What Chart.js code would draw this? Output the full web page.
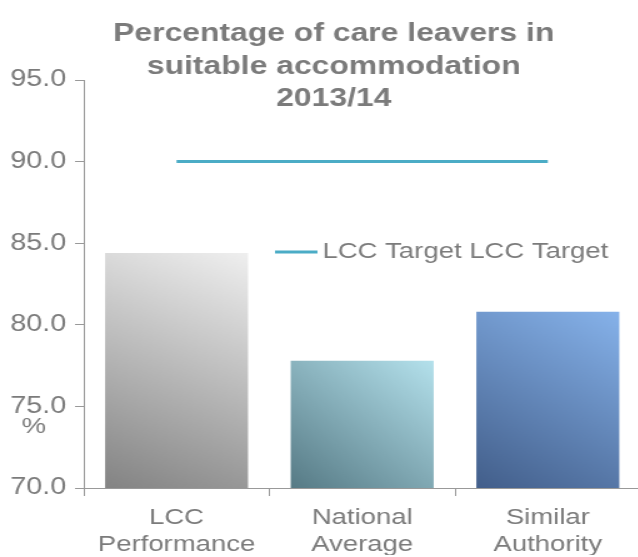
<!DOCTYPE html>
<html>
<head>
<meta charset="utf-8">
<script src="https://cdn.jsdelivr.net/npm/chart.js@4.4.0/dist/chart.umd.min.js"></script>
<style>
  html, body { margin: 0; padding: 0; background: #fff; overflow: hidden; }
  /* the source picture is stretched sideways, so the chart is drawn narrow and widened */
  #wrap { width: 514px; height: 557px; transform: scaleX(1.25); transform-origin: 0 0; }
</style>
</head>
<body>
<div id="wrap"><canvas id="chart"></canvas></div>
<script>
const categories = [['LCC', 'Performance'], ['National', 'Average'], ['Similar', 'Authority']];
const performance = [84.4, 77.8, 80.8];
const target = [90, 90, 90];
const yTicks = [70, 75, 80, 85, 90, 95];
const titleLines = ['Percentage of care leavers in', 'suitable accommodation', '2013/14'];
const targetLabel = 'LCC Target LCC Target';
const unitLabel = '%';

const barGradients = [
  ['#838383', '#efefef'],
  ['#567a85', '#b4e1ec'],
  ['#425e8a', '#86b2ea']
];
const lineColor = '#4bacc6';
const textColor = '#7b7b7b';
const axisColor = '#999999';
const fontFamily = '"Liberation Sans", Arial, sans-serif';
const barFraction = 0.77;

function barFill(ctx) {
  const chart = ctx.chart;
  const stops = barGradients[ctx.dataIndex % barGradients.length];
  if (!chart.chartArea || ctx.type !== 'data') return stops[1];
  const xs = chart.scales.x, ys = chart.scales.y;
  const cx = xs.getPixelForValue(ctx.dataIndex);
  const half = xs.width / categories.length * barFraction / 2;
  const top = ys.getPixelForValue(ctx.raw);
  const g = chart.ctx.createLinearGradient(cx - half, ys.bottom, cx + half, top);
  g.addColorStop(0, stops[0]);
  g.addColorStop(1, stops[1]);
  return g;
}

const overlay = {
  id: 'overlay',
  afterDraw(chart) {
    const c = chart.ctx;
    const ys = chart.scales.y;
    c.save();
    c.fillStyle = textColor;
    c.textAlign = 'center';
    c.textBaseline = 'alphabetic';
    c.font = 'bold 25.5px ' + fontFamily;
    titleLines.forEach((t, i) => c.fillText(t, 267, 41 + i * 32.5));

    // legend sitting inside the plot
    const ly = 252;
    c.strokeStyle = lineColor;
    c.lineWidth = 3;
    c.beginPath();
    c.moveTo(220, ly);
    c.lineTo(254, ly);
    c.stroke();
    c.textAlign = 'left';
    c.textBaseline = 'middle';
    c.font = '22px ' + fontFamily;
    c.fillText(targetLabel, 258, ly);

    c.textAlign = 'center';
    c.font = '22px ' + fontFamily;
    c.fillText(unitLabel, 27, ys.getPixelForValue(yTicks[1]) + 21);
    c.restore();
  }
};

new Chart(document.getElementById('chart'), {
  type: 'bar',
  data: {
    labels: categories,
    datasets: [
      {
        type: 'line',
        label: 'LCC Target',
        data: target,
        borderColor: lineColor,
        borderWidth: 3,
        pointRadius: 0,
        fill: false,
        order: 0
      },
      {
        label: 'Performance',
        data: performance,
        backgroundColor: barFill,
        borderWidth: 0,
        barPercentage: 1,
        categoryPercentage: barFraction,
        order: 1
      }
    ]
  },
  options: {
    responsive: true,
    maintainAspectRatio: false,
    animation: false,
    layout: { padding: { top: 80, bottom: 2, left: 0, right: 0 } },
    plugins: {
      legend: { display: false },
      title: { display: false },
      tooltip: { enabled: false }
    },
    scales: {
      x: {
        offset: true,
        afterFit: s => { s.height = 67; },
        grid: { offset: true, drawOnChartArea: false, tickLength: 8, color: axisColor },
        border: { color: axisColor },
        ticks: { color: textColor, font: { family: fontFamily, size: 22 }, padding: 9, maxRotation: 0 }
      },
      y: {
        min: yTicks[0],
        max: yTicks[yTicks.length - 1],
        afterFit: s => { s.width = 67; },
        grid: { drawOnChartArea: false, tickLength: 7, color: axisColor },
        border: { color: axisColor },
        ticks: {
          stepSize: yTicks[1] - yTicks[0],
          color: textColor,
          padding: 7,
          font: { family: fontFamily, size: 23 },
          callback: v => v.toFixed(1)
        }
      }
    }
  },
  plugins: [overlay]
});
</script>
</body>
</html>
